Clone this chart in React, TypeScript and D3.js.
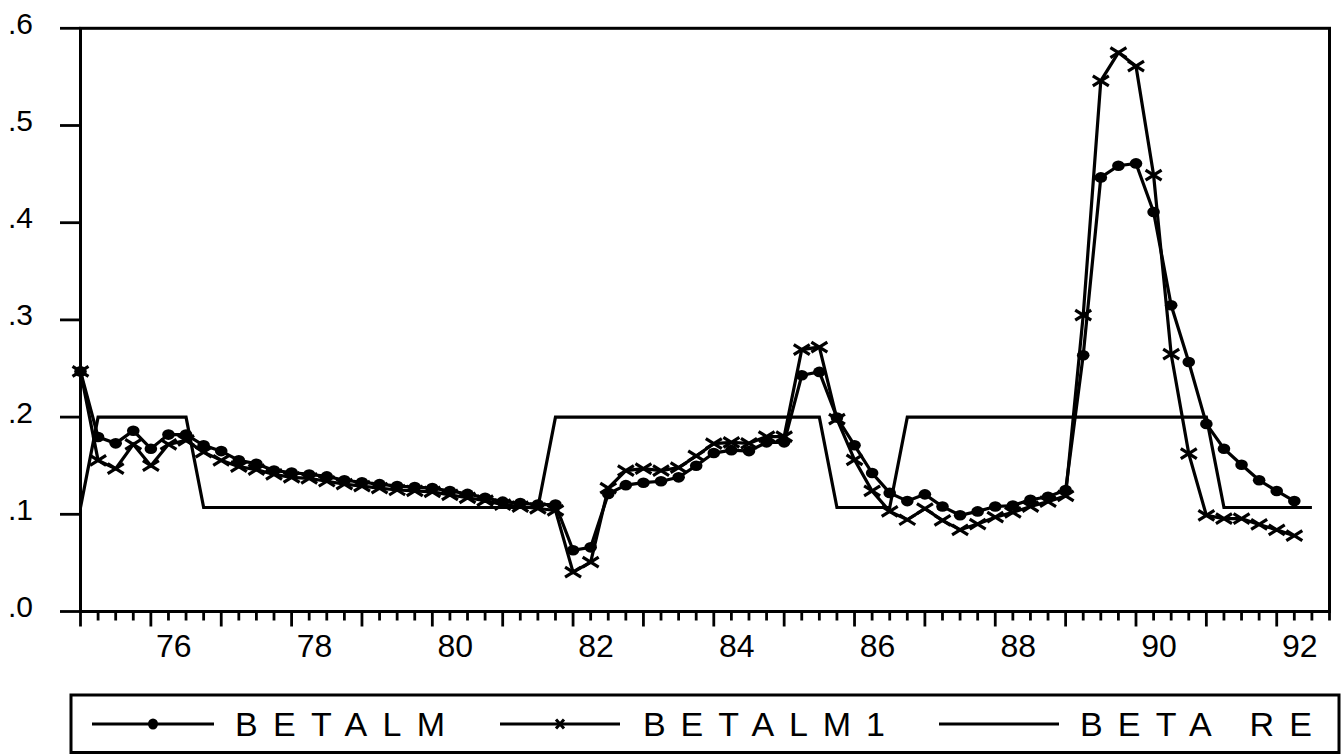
import React from "react";
import * as d3 from "d3";

// ---- data (quarterly, first observation 1975Q1) ----
const startYear = 1975;
const betaLM = [
  0.247, 0.1795, 0.173, 0.186, 0.1675, 0.182, 0.182, 0.171, 0.165, 0.1555,
  0.152, 0.145, 0.143, 0.141, 0.139, 0.135, 0.133, 0.131, 0.129, 0.128,
  0.127, 0.124, 0.121, 0.117, 0.113, 0.1115, 0.11, 0.11, 0.063, 0.066,
  0.121, 0.13, 0.1325, 0.134, 0.138, 0.15, 0.163, 0.166, 0.165, 0.174,
  0.174, 0.243, 0.2465, 0.1995, 0.171, 0.1425, 0.122, 0.1136, 0.1205, 0.108,
  0.099, 0.103, 0.108, 0.109, 0.115, 0.118, 0.125, 0.2636, 0.4466, 0.4586,
  0.461, 0.411, 0.315, 0.2567, 0.193, 0.1675, 0.151, 0.135, 0.124, 0.1136,
];
const betaLM1 = [
  0.247, 0.1555, 0.147, 0.172, 0.15, 0.172, 0.176, 0.164, 0.1555, 0.149,
  0.146, 0.141, 0.138, 0.137, 0.134, 0.131, 0.129, 0.127, 0.125, 0.124,
  0.123, 0.12, 0.117, 0.114, 0.11, 0.108, 0.106, 0.104, 0.0405, 0.0508,
  0.127, 0.145, 0.147, 0.145, 0.148, 0.16, 0.1727, 0.174, 0.173, 0.18,
  0.18, 0.2695, 0.272, 0.198, 0.156, 0.124, 0.103, 0.0944, 0.1058, 0.0937,
  0.084, 0.09, 0.097, 0.102, 0.108, 0.113, 0.119, 0.305, 0.546, 0.575,
  0.561, 0.449, 0.2647, 0.1624, 0.0989, 0.0955, 0.0955, 0.0896, 0.084, 0.078,
];
const betaRE = [
  0.107, 0.2, 0.2, 0.2, 0.2, 0.2, 0.2, 0.107, 0.107, 0.107,
  0.107, 0.107, 0.107, 0.107, 0.107, 0.107, 0.107, 0.107, 0.107, 0.107,
  0.107, 0.107, 0.107, 0.107, 0.107, 0.107, 0.107, 0.2, 0.2, 0.2,
  0.2, 0.2, 0.2, 0.2, 0.2, 0.2, 0.2, 0.2, 0.2, 0.2,
  0.2, 0.2, 0.2, 0.107, 0.107, 0.107, 0.107, 0.2, 0.2, 0.2,
  0.2, 0.2, 0.2, 0.2, 0.2, 0.2, 0.2, 0.2, 0.2, 0.2,
  0.2, 0.2, 0.2, 0.2, 0.2, 0.107, 0.107, 0.107, 0.107, 0.107,
  0.107,
];
const yTicks = [0, 0.1, 0.2, 0.3, 0.4, 0.5, 0.6];
const xLabelYears = [1976, 1978, 1980, 1982, 1984, 1986, 1988, 1990, 1992];
const nQuarters = 72; // 1975Q1 .. 1992Q4
const legendNames = ["BETALM", "BETALM1", "BETA RE"];

const FONT = "'Liberation Sans', Arial, Helvetica, sans-serif";

export default function App() {
  const W = 1341;
  const H = 754;
  const left = 80.5;
  const right = 1329.5;
  const top = 28.3;
  const bottom = 611.5;

  const x = d3.scaleLinear().domain([0, nQuarters - 1]).range([left, right]);
  const y = d3.scaleLinear().domain([0, 0.6]).range([bottom, top]);

  const line = d3
    .line<number>()
    .x((_, i) => x(i))
    .y((d) => y(d));

  const fmtY = (v: number) => d3.format(".1f")(v).replace(/^0/, "");
  const yearIdx = (yr: number) => (yr - startYear) * 4;

  const crossPath = (cx: number, cy: number, hw = 8, hh = 5) =>
    `M${cx - hw},${cy - hh}L${cx + hw},${cy + hh}M${cx - hw},${cy + hh}L${cx + hw},${cy - hh}`;

  const quarterTicks = d3.range(0, nQuarters);

  // legend geometry
  const lgY = 724;
  const legendItems = [
    { name: legendNames[0], x1: 92, x2: 214, tx: 235, tl: 210, marker: "dot" },
    { name: legendNames[1], x1: 500, x2: 620, tx: 643, tl: 242, marker: "cross" },
    { name: legendNames[2], x1: 939, x2: 1059, tx: 1080, tl: 232, marker: "none" },
  ];

  return (
    <div style={{ position: "absolute", left: 0, top: 0, width: W, height: H, background: "#fff" }}>
      <svg width={W} height={H} style={{ display: "block" }}>
        <rect x={0} y={0} width={W} height={H} fill="#fff" />
        {/* y ticks & labels */}
        {yTicks.map((t) => (
          <g key={"y" + t}>
            <line x1={60} x2={left} y1={y(t)} y2={y(t)} stroke="#000" strokeWidth={2.8} />
            <text
              x={33}
              y={y(t) + 5.5}
              textAnchor="end"
              fontFamily={FONT}
              fontSize={30}
              fill="#000"
            >
              {fmtY(t)}
            </text>
          </g>
        ))}
        {/* x ticks */}
        {quarterTicks.map((q) => (
          <line
            key={"xt" + q}
            x1={x(q)}
            x2={x(q)}
            y1={bottom}
            y2={q % 4 === 0 ? bottom + 15 : bottom + 9}
            stroke="#000"
            strokeWidth={2.8}
          />
        ))}
        {xLabelYears.map((yr) => (
          <text
            key={"xl" + yr}
            x={x(yearIdx(yr)) + 23}
            y={656.5}
            textAnchor="middle"
            fontFamily={FONT}
            fontSize={32}
            fill="#000"
          >
            {String(yr).slice(2)}
          </text>
        ))}
        {/* series */}
        <path d={line(betaRE) || ""} fill="none" stroke="#000" strokeWidth={3.2} />
        <path d={line(betaLM1) || ""} fill="none" stroke="#000" strokeWidth={3.2} />
        {betaLM1.map((v, i) => (
          <path key={"c" + i} d={crossPath(x(i), y(v))} stroke="#000" strokeWidth={3.2} fill="none" />
        ))}
        <path d={line(betaLM) || ""} fill="none" stroke="#000" strokeWidth={3.2} />
        {betaLM.map((v, i) => (
          <ellipse key={"d" + i} cx={x(i)} cy={y(v)} rx={6.3} ry={5.3} fill="#000" />
        ))}
        {/* frame */}
        <rect
          x={left}
          y={top}
          width={right - left}
          height={bottom - top}
          fill="none"
          stroke="#000"
          strokeWidth={3}
        />
        {/* legend */}
        <rect x={71} y={695} width={1339 - 71} height={752.5 - 695} fill="none" stroke="#000" strokeWidth={3} />
        {legendItems.map((it) => (
          <g key={it.name}>
            <line x1={it.x1} x2={it.x2} y1={lgY} y2={lgY} stroke="#000" strokeWidth={3.2} />
            {it.marker === "dot" && (
              <ellipse cx={(it.x1 + it.x2) / 2} cy={lgY} rx={5} ry={5.5} fill="#000" />
            )}
            {it.marker === "cross" && (
              <path d={crossPath((it.x1 + it.x2) / 2, lgY, 4, 4.5)} stroke="#000" strokeWidth={3} fill="none" />
            )}
            <text
              x={it.tx}
              y={735.5}
              fontFamily={FONT}
              fontSize={34}
              textLength={it.tl}
              lengthAdjust="spacing"
              fill="#000"
            >
              {it.name}
            </text>
          </g>
        ))}
      </svg>
    </div>
  );
}
